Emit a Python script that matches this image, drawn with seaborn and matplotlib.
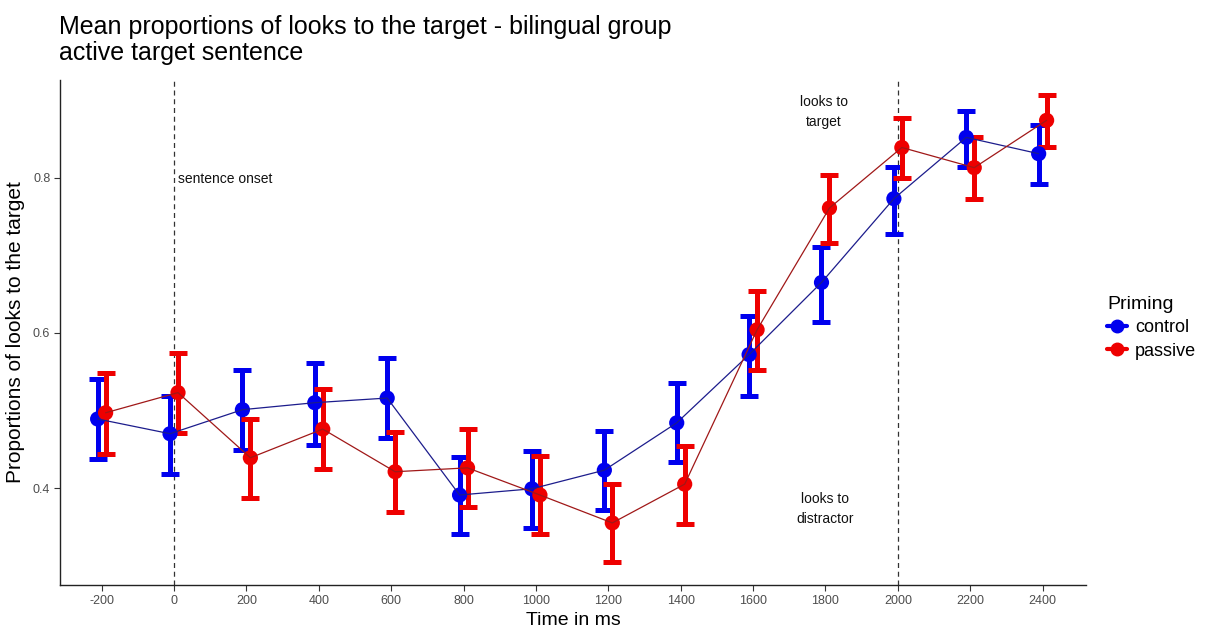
import numpy as np
import pandas as pd
import matplotlib
matplotlib.use("Agg")
import matplotlib.pyplot as plt
from matplotlib.lines import Line2D
import seaborn as sns

# ---- data ----
times = [-200, 0, 200, 400, 600, 800, 1000, 1200, 1400, 1600, 1800, 2000, 2200, 2400]
control_mean = [0.489, 0.470, 0.501, 0.510, 0.516, 0.391, 0.399, 0.423, 0.484, 0.572, 0.665, 0.773, 0.852, 0.831]
control_lo = [0.437, 0.418, 0.449, 0.455, 0.464, 0.341, 0.348, 0.372, 0.434, 0.519, 0.614, 0.728, 0.814, 0.792]
control_hi = [0.541, 0.519, 0.552, 0.561, 0.568, 0.440, 0.448, 0.474, 0.535, 0.622, 0.711, 0.814, 0.886, 0.868]
passive_mean = [0.497, 0.523, 0.439, 0.476, 0.421, 0.426, 0.391, 0.355, 0.405, 0.604, 0.761, 0.839, 0.813, 0.874]
passive_lo = [0.444, 0.471, 0.387, 0.424, 0.369, 0.375, 0.341, 0.305, 0.354, 0.552, 0.716, 0.800, 0.773, 0.839]
passive_hi = [0.548, 0.574, 0.489, 0.528, 0.472, 0.476, 0.441, 0.405, 0.454, 0.654, 0.803, 0.877, 0.853, 0.907]
groups = ["control", "passive"]
x_ticks = [-200, 0, 200, 400, 600, 800, 1000, 1200, 1400, 1600, 1800, 2000, 2200, 2400]
y_ticks = [0.4, 0.6, 0.8]

title_line1 = "Mean proportions of looks to the target - bilingual group"
title_line2 = "active target sentence"

# ---- styling ----
point_col = {"control": "#0000EE", "passive": "#EE0000"}
line_col = {"control": "#1c1c8c", "passive": "#a01818"}
dodge = {"control": -11, "passive": 11}

frames = []
for g, m, lo, hi in [("control", control_mean, control_lo, control_hi),
                     ("passive", passive_mean, passive_lo, passive_hi)]:
    frames.append(pd.DataFrame({"time": times, "mean": m, "lo": lo, "hi": hi, "Priming": g}))
df = pd.concat(frames, ignore_index=True)
df["xpos"] = df["time"] + df["Priming"].map(dodge)

sns.set_style("white")
plt.rcParams["font.family"] = ["Liberation Sans", "DejaVu Sans"]
plt.rcParams["text.color"] = "black"
plt.rcParams["axes.labelcolor"] = "black"

fig = plt.figure(figsize=(12.05, 6.28), dpi=100)
ax = fig.add_axes([0.0498, 0.0685, 0.8515, 0.8041])

ax.axvline(0, color="#333333", lw=0.9, ls=(0, (4, 3)), zorder=1)
ax.axvline(2000, color="#333333", lw=0.9, ls=(0, (4, 3)), zorder=1)

for g in groups:
    d = df[df["Priming"] == g]
    ax.errorbar(d["xpos"], d["mean"], yerr=[d["mean"] - d["lo"], d["hi"] - d["mean"]],
                fmt="none", ecolor=point_col[g], elinewidth=3.6, capsize=6.5, capthick=3.6, zorder=2)

sns.scatterplot(data=df, x="xpos", y="mean", hue="Priming", palette=point_col, s=120,
                edgecolor="none", legend=False, ax=ax, zorder=3)
sns.lineplot(data=df, x="xpos", y="mean", hue="Priming", palette=line_col, lw=0.9,
             legend=False, ax=ax, zorder=4, sort=True)

ax.set_xlim(-315, 2520)
ax.set_ylim(0.275, 0.926)
ax.set_xticks(x_ticks)
ax.set_xticklabels([str(t) for t in x_ticks])
ax.set_yticks(y_ticks)
ax.set_yticklabels([f"{t:.1f}" for t in y_ticks])
ax.tick_params(axis="both", bottom=True, left=True, labelsize=9, colors="#333333",
               labelcolor="#4D4D4D", length=4, width=0.8, direction="out", pad=3)
for s in ["top", "right"]:
    ax.spines[s].set_visible(False)
for s in ["left", "bottom"]:
    ax.spines[s].set_color("#222222")
    ax.spines[s].set_linewidth(1.0)

ax.set_xlabel("Time in ms", fontsize=14, labelpad=4, color="black")
ax.set_ylabel("Proportions of looks to the target", fontsize=15, labelpad=6, color="black")

ax.text(12, 0.79, "sentence onset", fontsize=10, ha="left", va="bottom", color="#111111")
ax.text(1795, 0.885, "looks to\ntarget", fontsize=10, ha="center", va="center",
        color="#111111", linespacing=1.6)
ax.text(1800, 0.373, "looks to\ndistractor", fontsize=10, ha="center", va="center",
        color="#111111", linespacing=1.6)

fig.text(59 / 1205, 1 - 34 / 628, title_line1, fontsize=18, ha="left", va="baseline", color="black")
fig.text(59 / 1205, 1 - 60 / 628, title_line2, fontsize=18, ha="left", va="baseline", color="black")

handles = [Line2D([0], [0], color=point_col[g], marker="o", markersize=9, lw=3) for g in groups]
leg = fig.legend(handles, groups, title="Priming", loc="upper left",
                 bbox_to_anchor=(1107 / 1205, 1 - 296 / 628), frameon=False, fontsize=13,
                 title_fontsize=14, handlelength=1.1, handletextpad=0.45,
                 labelspacing=0.35, borderaxespad=0, borderpad=0)
leg._legend_box.align = "left"
for t in leg.get_texts():
    t.set_color("black")
leg.get_title().set_color("black")

fig.savefig("out.png", dpi=100, facecolor="white")
